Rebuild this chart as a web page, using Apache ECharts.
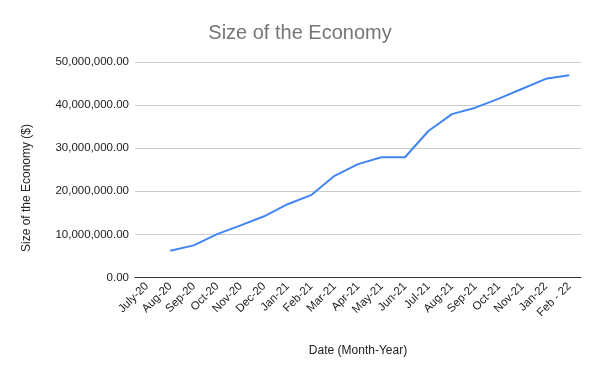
<!DOCTYPE html>
<html>
<head>
<meta charset="utf-8">
<script src="https://cdn.jsdelivr.net/npm/echarts@6/dist/echarts.min.js"></script>
<style>html,body{margin:0;padding:0;background:#fff}#c{width:600px;height:371px}</style>
</head>
<body>
<div id="c"></div>
<script>
var categories = ['July-20','Aug-20','Sep-20','Oct-20','Nov-20','Dec-20','Jan-21','Feb-21','Mar-21','Apr-21','May-21','Jun-21','Jul-21','Aug-21','Sep-21','Oct-21','Nov-21','Jan-22','Feb - 22'];
var economySize = [null, 6200000, 7450000, 10050000, 12100000, 14200000, 17000000, 19100000, 23600000, 26300000, 27900000, 27900000, 34000000, 37900000, 39400000, 41500000, 43800000, 46100000, 46900000];
var yTicks = { min: 0, max: 50000000, interval: 10000000 };

var chart = echarts.init(document.getElementById('c'), null, {renderer: 'canvas'});
var font = 'Liberation Sans, Arial, sans-serif';
chart.setOption({
  animation: false,
  title: {
    text: 'Size of the Economy', left: 'center', top: 18,
    textStyle: { fontFamily: font, fontSize: 20, fontWeight: 'normal', color: '#757575' }
  },
  grid: { left: 135, right: 19, top: 62, bottom: 93.5, containLabel: false },
  graphic: [{
    type: 'text', x: 27, y: 188, rotation: Math.PI / 2,
    style: { text: 'Size of the Economy ($)', fontFamily: font, fontSize: 12, fill: '#222', textAlign: 'center', textVerticalAlign: 'middle' }
  }],
  xAxis: {
    type: 'category', data: categories, boundaryGap: true,
    name: 'Date (Month-Year)', nameLocation: 'middle', nameGap: 67,
    nameTextStyle: { fontFamily: font, fontSize: 12, color: '#222' },
    axisLine: { lineStyle: { color: '#333', width: 1 } },
    axisTick: { show: false },
    axisLabel: { rotate: 45, interval: 0, margin: 7, fontFamily: font, fontSize: 11.5, color: '#222' }
  },
  yAxis: {
    type: 'value', min: yTicks.min, max: yTicks.max, interval: yTicks.interval,
    axisLine: { show: false }, axisTick: { show: false },
    splitLine: { lineStyle: { color: '#cccccc', width: 1 } },
    axisLabel: {
      margin: 6, fontFamily: font, fontSize: 11.5, color: '#222',
      formatter: function (v) { return v.toLocaleString('en-US', { minimumFractionDigits: 2, maximumFractionDigits: 2 }); }
    }
  },
  series: [{
    type: 'line', data: economySize, showSymbol: false, connectNulls: false,
    lineStyle: { color: '#4285F4', width: 2 }, itemStyle: { color: '#4285F4' }
  }]
});
</script>
</body>
</html>
